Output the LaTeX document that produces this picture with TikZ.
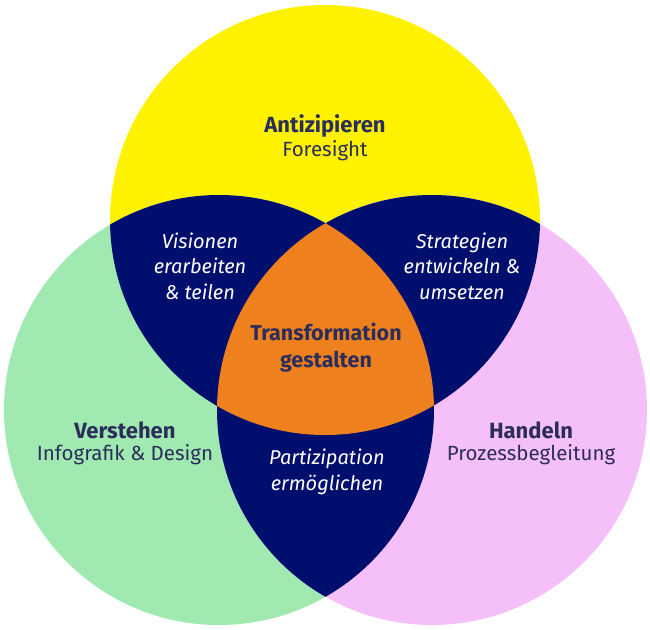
\documentclass[tikz,border=0pt]{standalone}
\usepackage{fontspec}
\setmainfont{Fira Sans}
\usepackage{xcolor}
\usetikzlibrary{positioning}
\definecolor{cYellow}{HTML}{FFF200}
\definecolor{cGreen}{HTML}{A0E9B0}
\definecolor{cPink}{HTML}{F5C0FA}
\definecolor{cNavy}{HTML}{000E6E}
\definecolor{cOrange}{HTML}{EE801E}
\definecolor{cInk}{HTML}{2B2D5B}

\begin{document}
\begin{tikzpicture}[
    x=1pt, y=-1pt,
    every node/.style={align=center, inner sep=0pt},
    head/.style={font=\fontsize{22}{25}\selectfont\bfseries, text=cInk},
    sub/.style={font=\fontsize{20.5}{25}\selectfont, text=cInk},
    cut/.style={font=\fontsize{20}{25.5}\selectfont\itshape, text=white},
    core/.style={font=\fontsize{21.5}{27}\selectfont\bfseries, text=cInk}
]
\useasboundingbox (0,0) rectangle (650,629);
\def\rr{215}
\coordinate (ant) at (325,220);
\coordinate (ver) at (219,410);
\coordinate (han) at (432,410);
% circles
\fill[cYellow] (ant) circle (\rr);
\fill[cGreen] (ver) circle (\rr);
\fill[cPink] (han) circle (\rr);
% pairwise overlaps
\begin{scope}
  \clip (ant) circle (\rr);
  \fill[cNavy] (ver) circle (\rr);
  \fill[cNavy] (han) circle (\rr);
\end{scope}
\begin{scope}
  \clip (ver) circle (\rr);
  \fill[cNavy] (han) circle (\rr);
\end{scope}
% centre
\begin{scope}
  \clip (ant) circle (\rr);
  \clip (ver) circle (\rr);
  \fill[cOrange] (han) circle (\rr);
\end{scope}
% labels
\node[head] (antT) at (325,126) {Antizipieren};
\node[sub] (antS) at (325,151) {Foresight};
\node[head] (verT) at (125,430) {Verstehen};
\node[sub] (verS) at (125,455) {Infografik \& Design};
\node[head] (hanT) at (531,430) {Handeln};
\node[sub] (hanS) at (531,455) {Prozessbegleitung};
\node[cut] (vis) at (200,266) {Visionen\\erarbeiten\\\& teilen};
\node[cut] (str) at (462,266) {Strategien\\entwickeln \&\\umsetzen};
\node[cut] (par) at (327,472) {Partizipation\\ermöglichen};
\node[core] (tra) at (326,348) {Transformation\\gestalten};
\end{tikzpicture}
\end{document}
